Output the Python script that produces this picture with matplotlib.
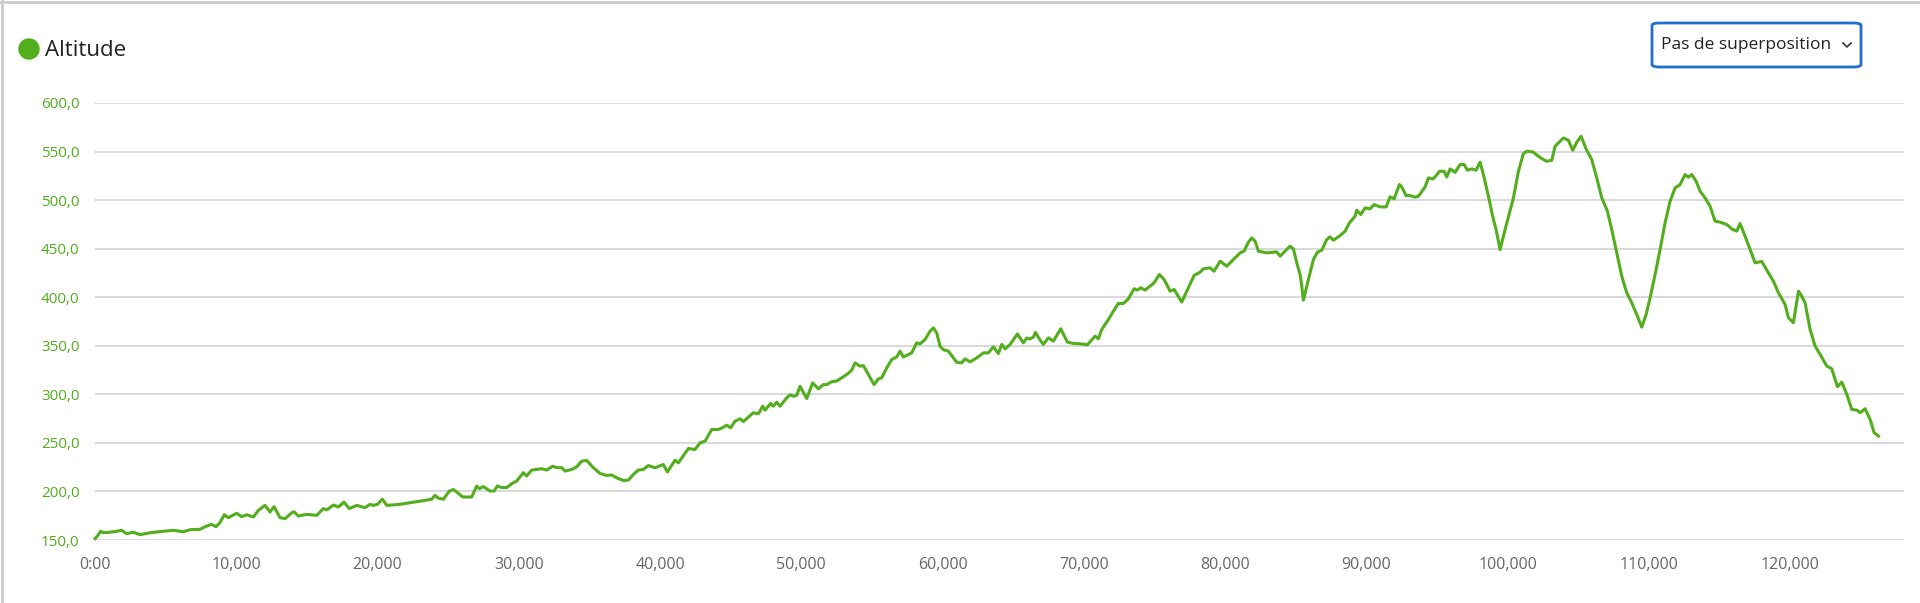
import matplotlib.pyplot as plt
from matplotlib.ticker import FuncFormatter, MultipleLocator
from matplotlib.patches import FancyBboxPatch, Circle
from matplotlib.lines import Line2D

plt.rcParams['font.family'] = ['Open Sans', 'DejaVu Sans']

green = "#52ae1c"
grid_gray = "#d3d3d3"

# distance along the track and altitude
distance = [
    0, 165, 401, 590, 1062, 1534, 1888, 2242, 2714, 3186, 3894, 4838, 5546, 6254,
    6726, 7434, 7906, 8260, 8567, 8850, 9157, 9440, 9747, 10030, 10384, 10738,
    11210, 11564, 12036, 12390, 12673, 13098, 13452, 13924, 14089, 14396, 14986,
    15694, 16166, 16402, 16874, 17228, 17629, 18007, 18526, 19116, 19470, 19706,
    19989, 20343, 20650, 21594, 22302, 23246, 23836, 24072, 24308, 24662, 25087,
    25370, 25724, 26031, 26668, 27022, 27211, 27494, 27966, 28250, 28486, 28792,
    29146, 29500, 29854, 30326, 30562, 30916, 31624, 31978, 32403, 32686, 33040,
    33276, 33748, 34102, 34456, 34810, 35282, 35754, 36226, 36580, 36934, 37406,
    37760, 38114, 38468, 38822, 39176, 39648, 40238, 40521, 41064, 41300, 42008,
    42480, 42834, 43188, 43660, 44132, 44368, 44722, 45005, 45312, 45666, 45902,
    46610, 46964, 47271, 47436, 47837, 48026, 48262, 48498, 48970, 49206, 49442,
    49678, 49914, 50386, 50810, 51212, 51566, 51802, 52156, 52510, 53218, 53572,
    53808, 54162, 54398, 54752, 55153, 55460, 55696, 56050, 56404, 56758, 56994,
    57230, 57820, 58174, 58410, 58764, 59118, 59354, 59590, 59826, 60062, 60416,
    60770, 61006, 61360, 61596, 61950, 62422, 62894, 63248, 63602, 63956, 64192,
    64428, 64782, 65301, 65726, 65962, 66198, 66434, 66576, 66906, 67142, 67496,
    67850, 68369, 68841, 69266, 69738, 70257, 70800, 71036, 71272, 71674, 72099,
    72453, 72807, 73161, 73562, 73798, 74034, 74341, 74978, 75355, 75686, 76111,
    76394, 76937, 77409, 77810, 78235, 78471, 78943, 79226, 79651, 80123, 80595,
    81067, 81350, 81657, 81893, 82129, 82365, 82955, 83663, 83899, 84253, 84607,
    84843, 85079, 85315, 85433, 85551, 85905, 86259, 86542, 86849, 87203, 87439,
    87675, 88147, 88501, 88808, 89209, 89327, 89610, 89917, 90271, 90554, 90979,
    91404, 91687, 91970, 92348, 92513, 92820, 93103, 93457, 93693, 94165, 94401,
    94708, 94873, 95180, 95510, 95699, 95935, 96289, 96643, 96926, 97162, 97469,
    97776, 98060, 98294, 98648, 99002, 99191, 99474, 99828, 100418, 100772,
    101126, 101362, 101787, 102188, 102542, 102778, 103132, 103368, 103722,
    103958, 104312, 104619, 104902, 105209, 105563, 105964, 106318, 106672,
    107073, 107380, 107734, 108088, 108442, 108796, 109150, 109504, 109811,
    110094, 110448, 110802, 111156, 111510, 111864, 112218, 112572, 112808,
    113044, 113351, 113634, 113988, 114342, 114696, 115050, 115522, 115876,
    116230, 116466, 116820, 117221, 117528, 118000, 118354, 118826, 119180,
    119652, 119888, 120242, 120431, 120596, 120832, 121068, 121422, 121776,
    122130, 122602, 122956, 123357, 123664, 124018, 124372, 124726, 124962,
    125316, 125670, 125954, 126260,
]
altitude = [
    151.4, 154, 159, 157.5, 158, 159, 160, 156.5, 158, 155.5, 157.5, 159, 160, 158.5,
    160.6, 161, 164.4, 166, 163.7, 168, 176, 173, 175.4, 177.5, 174, 176,
    173.7, 180.5, 185.7, 178.8, 184.3, 173, 172, 178, 179, 174.7, 176.4,
    175.4, 182.3, 181, 186, 184, 189, 182.3, 185.7, 183.3, 186.7, 185.7,
    186.7, 192, 185.7, 186.7, 188.4, 190.5, 192, 196, 193, 192, 200.4,
    202, 198, 194.3, 194.3, 205.6, 202.9, 205, 200.4, 200.4, 205.6, 204,
    204, 208, 210.7, 219.3, 216, 222, 223.4, 222, 226, 224.5, 224.5,
    221, 222.6, 225.4, 231.2, 231.9, 224.4, 218.5, 216.5, 217, 214, 211.3,
    211.7, 217.5, 222, 222.6, 226.7, 224.4, 227.8, 220, 232.2, 229.5, 244.2,
    243.2, 250, 251.8, 263.8, 263.8, 265.2, 268.3, 265.5, 272.4, 274.8, 272,
    281, 280, 287.8, 283.7, 290.6, 287.8, 291.9, 287.8, 296.4, 299.5, 298,
    299, 308.3, 295.7, 311.8, 305.6, 310, 310, 313, 313.7, 320.4, 324.8,
    332.4, 329, 329.6, 320.4, 310, 315.9, 317, 327.2, 335.8, 338.5, 344.4,
    338.5, 342.7, 353, 352, 356.4, 365, 368.4, 363.3, 349.5, 346, 344.4,
    337.5, 333, 332.4, 336.5, 333.4, 337.5, 342.7, 342.7, 348.9, 342, 351.3,
    346.8, 351.3, 362.2, 353, 358, 357, 359, 363.8, 356, 351.4, 358.2,
    354.8, 367.5, 353.8, 352.4, 352, 351, 360, 357.2, 366.8, 375.4, 385.7,
    393.6, 393.6, 398.4, 408.7, 407.3, 409.7, 407.3, 414.8, 423.4, 418.3, 406.3,
    408, 395, 409.7, 422.4, 425.8, 429.2, 430.3, 426.8, 437.1, 432, 438.8,
    445.7, 447.4, 456.7, 461.1, 457.7, 447.4, 445.7, 446.7, 442.3, 447.4, 452.6,
    449.8, 435.4, 423.4, 411.4, 397, 418.3, 438.8, 446.4, 448.4, 459.4, 462.2,
    458.7, 463.5, 468, 476.6, 483.4, 489.6, 485.1, 492, 491, 495.4, 493,
    493, 503.3, 501.3, 516, 513.6, 504.7, 504.7, 503, 504, 513.6, 522.9,
    521.8, 523.9, 529.7, 529.7, 523.9, 532.1, 528.7, 536.6, 536.6, 530.8, 532.1,
    530.8, 539, 526.3, 504, 480, 469.7, 449.1, 469.7, 502.3, 529.7,
    548, 550.3, 549.6, 545.2, 541.7, 540, 541, 555.5, 560.6,
    564, 561.6, 551.3, 559.6, 565.7, 552.7, 541.7, 522.9, 502.3,
    488.6, 469.7, 445.7, 421.7, 404.5, 394.2, 382.2, 369.2, 382.2,
    399.4, 423.4, 449.1, 476.6, 498.9, 512.6, 516, 526.3, 523.5,
    526.3, 519.4, 509.2, 502.3, 493.7, 478.3, 477.3, 474.9, 470.4,
    468, 475.9, 462.8, 447.4, 435.4, 436.8, 427.9, 416.5, 404.5,
    392.5, 378.8, 373.7, 390.8, 406.3, 401.1, 394.2, 366.8, 349.7,
    341.1, 329.1, 326.3, 307.8, 312.6, 300, 284.5, 283.8, 281.1,
    285.2, 274.2, 260.5, 257,
]

y_ticks = [150, 200, 250, 300, 350, 400, 450, 500, 550, 600]
x_max = 128070


def fmt_x(v, pos):
    if v == 0:
        return "0:00"
    return f"{int(v):,}"


def fmt_y(v, pos):
    return f"{v:.1f}".replace(".", ",")


fig = plt.figure(figsize=(19.2, 6.03), dpi=100)
ax = fig.add_axes([95 / 1920, 63 / 603, 1809 / 1920, 437 / 603])

ax.plot(distance, altitude, color=green, linewidth=2.2, solid_joinstyle="round", clip_on=False)

ax.set_xlim(0, x_max)
ax.set_ylim(150, 600)
ax.set_yticks(y_ticks)
ax.xaxis.set_major_locator(MultipleLocator(10000))
ax.xaxis.set_major_formatter(FuncFormatter(fmt_x))
ax.yaxis.set_major_formatter(FuncFormatter(fmt_y))

ax.grid(axis="y", color=grid_gray, linewidth=1.2)
ax.set_axisbelow(True)
for s in ax.spines.values():
    s.set_visible(False)
ax.tick_params(axis="both", length=0)
ax.tick_params(axis="y", colors=green, labelsize=11, pad=11)
ax.tick_params(axis="x", colors="#666666", labelsize=11.5, pad=12)

# legend dot and title (dot placed in inches from the lower left corner)
dot = Circle((29 / 100, (603 - 49) / 100), 0.1, transform=fig.dpi_scale_trans,
             color=green, zorder=5)
fig.patches.append(dot)
fig.text(45 / 1920, 1 - 50 / 603, "Altitude", fontsize=16, color="#222222", va="center", ha="left")

# dropdown box
box = FancyBboxPatch((1652 / 1920, 1 - 67 / 603), 209 / 1920, 44 / 603,
                     boxstyle="round,pad=0,rounding_size=0.004", transform=fig.transFigure,
                     facecolor="white", edgecolor="#1e6fd1", linewidth=2)
fig.patches.append(box)
fig.text(1661 / 1920, 1 - 45 / 603, "Pas de superposition", fontsize=12.5, color="#222222",
         va="center", ha="left")
fig.lines.append(Line2D([1843 / 1920, 1847 / 1920, 1851 / 1920],
                        [1 - 43 / 603, 1 - 47 / 603, 1 - 43 / 603],
                        transform=fig.transFigure, color="#333333", linewidth=1.2))

# frame lines at top and left
fig.lines.append(Line2D([0, 1], [1 - 1.5 / 603, 1 - 1.5 / 603], transform=fig.transFigure,
                        color="#cccccc", linewidth=2))
fig.lines.append(Line2D([1.5 / 1920, 1.5 / 1920], [0, 1], transform=fig.transFigure,
                        color="#cccccc", linewidth=2))

plt.savefig("out.png", dpi=100)
